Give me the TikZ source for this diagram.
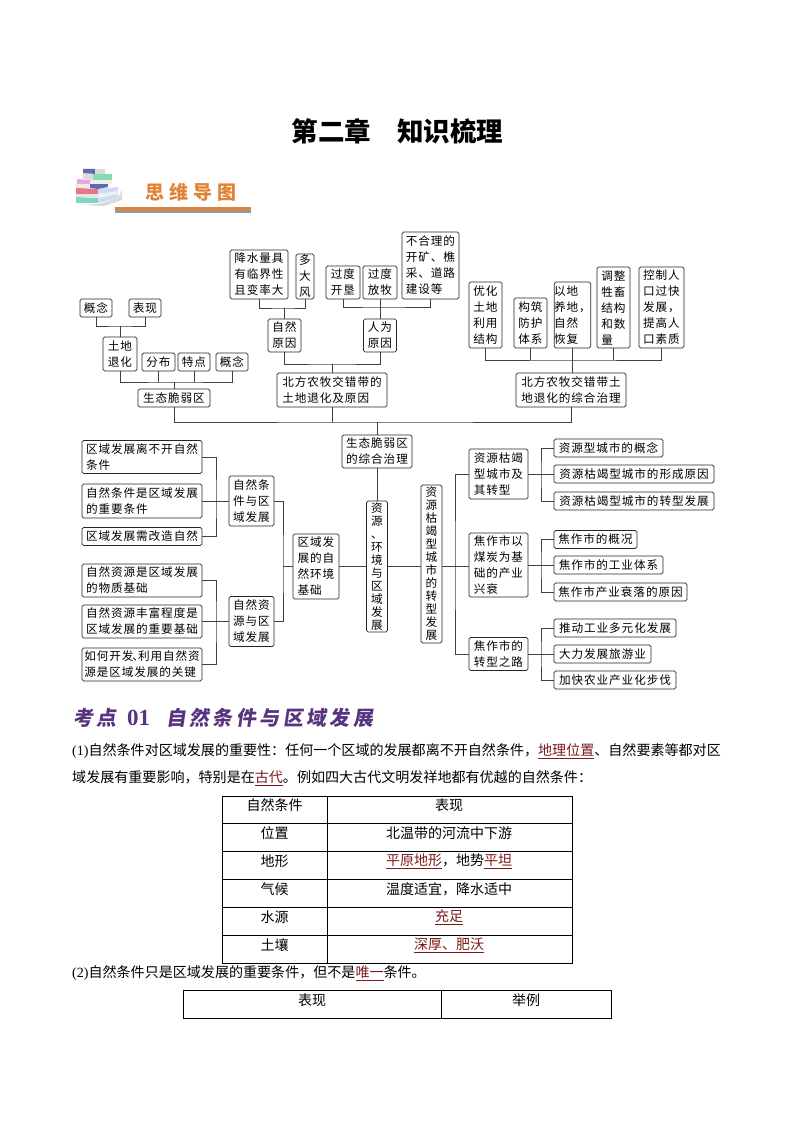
\documentclass[tikz,border=0pt]{standalone}
\usepackage{fontspec}
\setmainfont{Noto Sans CJK SC}
\newfontfamily\latinfont{Liberation Serif}
\newfontfamily\mapfont[LetterSpace=8]{Noto Sans CJK SC}
\newfontfamily\headfont[LetterSpace=17,FakeSlant=0.15]{Noto Sans CJK SC}
\newfontfamily\logofont[LetterSpace=27]{Noto Sans CJK SC}
\definecolor{keyred}{RGB}{125,25,25}
\definecolor{headorange}{RGB}{226,130,52}
\definecolor{headpurple}{RGB}{88,52,128}
\definecolor{bookred}{RGB}{232,120,135}
\definecolor{bookteal}{RGB}{125,215,195}
\definecolor{bookblue}{RGB}{95,105,175}
\definecolor{bookpink}{RGB}{235,165,225}
\definecolor{bookgreen}{RGB}{135,220,175}
\definecolor{bookpale}{RGB}{205,220,245}
\newcommand{\keyword}[1]{\textcolor{keyred}{\underline{#1}}}
\tikzset{
  mapbox/.style={draw=black!85,rounded corners=1.6pt,line width=0.7pt,inner sep=0pt,align=left,font=\mapfont\fontsize{11.6}{16}\selectfont},
  tallbox/.style={mapbox,align=center,font=\mapfont\fontsize{11.6}{13}\selectfont},
  maplink/.style={draw=black!75,line width=0.8pt},
  rowline/.style={draw=black,line width=0.7pt},
  bodytext/.style={anchor=west,inner sep=0pt,font=\fontsize{14.05}{14}\selectfont},
  celltext/.style={inner sep=0pt,font=\fontsize{14}{14}\selectfont}
}
\begin{document}
\begin{tikzpicture}[x=1pt,y=-1pt]
\useasboundingbox (0,0) rectangle (794,1123);
% title
\node[inner sep=0pt,font=\fontsize{26.5}{27}\selectfont\bfseries] (title) at (397.5,131) {第二章\hspace{26pt}知识梳理};
% books
\fill[black!15] (80,205) -- (104,206) -- (122,200) -- (122,190) -- (118,198) -- (98,204) -- cycle;
\fill[bookteal] (76,197) -- (98,198) -- (98,203) -- (76,203) -- cycle;
\fill[bookpale] (98,198) -- (118,194) -- (118,198) -- (98,203) -- cycle;
\fill[black!10] (76,194) -- (98,194) -- (98,198) -- (76,197) -- cycle;
\fill[black!6] (98,194) -- (118,191) -- (118,194) -- (98,198) -- cycle;
\fill[bookred] (76,188) -- (98,189) -- (98,194) -- (76,194) -- cycle;
\fill[bookpale] (98,189) -- (118,187) -- (118,191) -- (98,194) -- cycle;
\fill[black!8] (75,184) -- (90,184) -- (90,188) -- (76,188) -- cycle;
\fill[bookblue] (90,184) -- (108,184) -- (108,187) -- (98,189) -- (90,188) -- cycle;
\fill[bookpink] (77,179) -- (90,180) -- (90,184) -- (77,184) -- cycle;
\fill[black!6] (90,180) -- (112,180) -- (112,184) -- (90,184) -- cycle;
\fill[black!14] (83,173) -- (93,174) -- (93,180) -- (83,179) -- cycle;
\fill[bookgreen] (93,174) -- (112,174) -- (112,180) -- (93,180) -- cycle;
\fill[bookblue] (83,169) -- (95,169) -- (95,174) -- (83,173) -- cycle;
\fill[black!15] (95,169) -- (105,169) -- (105,174) -- (95,174) -- cycle;
% mind map heading
\node[inner sep=0pt,text=headorange,font=\logofont\fontsize{19}{19}\selectfont\bfseries] (maphead) at (191,192) {思维导图};
\fill[headorange] (115,207) rectangle (251,210);
\fill[black!40] (115,210) rectangle (251,213);
% top left
\node[mapbox,minimum width=32,minimum height=18] (gainiana) at (96,308) {概念};
\node[mapbox,minimum width=32,minimum height=18] (biaoxian) at (145,308) {表现};
\node[mapbox,minimum width=34,minimum height=34] (tudi) at (120,354) {土地\\退化};
\node[mapbox,minimum width=33,minimum height=18] (fenbu) at (158.5,362) {分布};
\node[mapbox,minimum width=32,minimum height=18] (tedian) at (194,362) {特点};
\node[mapbox,minimum width=32,minimum height=18] (gainianb) at (232,362) {概念};
\node[mapbox,minimum width=72,minimum height=18] (cuiruo) at (174,398) {生态脆弱区};
% top middle
\node[mapbox,minimum width=58,minimum height=49] (jiangshui) at (259,274.5) {降水量具\\有临界性\\且变率大};
\node[mapbox,align=center,minimum width=18,minimum height=45] (dafeng) at (305,276.5) {多\\大\\风};
\node[mapbox,minimum width=34,minimum height=33] (kaiken) at (343,282.5) {过度\\开垦};
\node[mapbox,minimum width=34,minimum height=33] (fangmu) at (380,282.5) {过度\\放牧};
\node[mapbox,minimum width=57,minimum height=67] (buheli) at (430.5,265.5) {不合理的\\开矿、樵\\采、道路\\建设等};
\node[mapbox,minimum width=33,minimum height=33] (ziran) at (284.5,335.5) {自然\\原因};
\node[mapbox,minimum width=33,minimum height=33] (renwei) at (380,335.5) {人为\\原因};
\node[mapbox,minimum width=110,minimum height=34] (yuanyin) at (332,390) {北方农牧交错带的\\土地退化及原因};
% top right
\node[mapbox,minimum width=33,minimum height=66] (youhua) at (485.5,315) {优化\\土地\\利用\\结构};
\node[mapbox,minimum width=33,minimum height=50] (goujian) at (530.5,323) {构筑\\防护\\体系};
\node[mapbox,minimum width=33,minimum height=66] (yangdi) at (572.5,315) {以地\\养地，\\自然\\恢复};
\node[mapbox,minimum width=33,minimum height=81] (tiaozheng) at (613.5,307.5) {调整\\牲畜\\结构\\和数\\量};
\node[mapbox,minimum width=45,minimum height=81] (kongzhi) at (661.5,307.5) {控制人\\口过快\\发展，\\提高人\\口素质};
\node[mapbox,minimum width=110,minimum height=34] (zhili) at (571,390) {北方农牧交错带土\\地退化的综合治理};
% centre
\node[mapbox,minimum width=70,minimum height=33] (zonghe) at (377,451.5) {生态脆弱区\\的综合治理};
\node[tallbox,minimum width=21,minimum height=131] (huanjing) at (377,566.5) {资\\源\\、\\环\\境\\与\\区\\域\\发\\展};
\node[tallbox,minimum width=21,minimum height=158] (kujie) at (431.5,564) {资\\源\\枯\\竭\\型\\城\\市\\的\\转\\型\\发\\展};
% left side
\node[mapbox,minimum width=120,minimum height=33] (likai) at (142,457) {区域发展离不开自然\\条件};
\node[mapbox,minimum width=120,minimum height=34] (zhongyao) at (142,501) {自然条件是区域发展\\的重要条件};
\node[mapbox,minimum width=120,minimum height=18] (gaizao) at (142,536.5) {区域发展需改造自然};
\node[mapbox,minimum width=120,minimum height=33] (wuzhi) at (142,580.5) {自然资源是区域发展\\的物质基础};
\node[mapbox,minimum width=120,minimum height=33] (fengfu) at (142,621.5) {自然资源丰富程度是\\区域发展的重要基础};
\node[mapbox,minimum width=120,minimum height=33] (guanjian) at (142,664.5) {如何开发\kern-1pt、\kern-6pt利用自然资\\源是区域发展的关键};
\node[mapbox,minimum width=45,minimum height=50] (tiaojian) at (251.5,501) {自然条\\件与区\\域发展};
\node[mapbox,minimum width=45,minimum height=50] (ziyuan) at (251.5,621.5) {自然资\\源与区\\域发展};
\node[mapbox,minimum width=46,minimum height=65] (jichu) at (316,566.5) {区域发\\展的自\\然环境\\基础};
% right side
\node[mapbox,minimum width=59,minimum height=50] (chengshi) at (498.5,474) {资源枯竭\\型城市及\\其转型};
\node[mapbox,minimum width=59,minimum height=64] (xingshuai) at (498.5,565) {焦作市以\\煤炭为基\\础的产业\\兴衰};
\node[mapbox,minimum width=59,minimum height=33] (zhilu) at (498.5,654) {焦作市的\\转型之路};
\node[mapbox,minimum width=109,minimum height=18] (gainianc) at (608.5,448) {资源型城市的概念};
\node[mapbox,minimum width=160,minimum height=18] (xingcheng) at (634,474) {资源枯竭型城市的形成原因};
\node[mapbox,minimum width=160,minimum height=18] (fazhan) at (634,501) {资源枯竭型城市的转型发展};
\node[mapbox,minimum width=83,minimum height=18] (gaikuang) at (595.5,539.5) {焦作市的概况};
\node[mapbox,minimum width=109,minimum height=18] (tixi) at (608.5,565) {焦作市的工业体系};
\node[mapbox,minimum width=133,minimum height=18] (shuailuo) at (620.5,592) {焦作市产业衰落的原因};
\node[mapbox,minimum width=122,minimum height=18] (tuidong) at (615,628) {推动工业多元化发展};
\node[mapbox,minimum width=97,minimum height=18] (lvyou) at (602.5,654) {大力发展旅游业};
\node[mapbox,minimum width=122,minimum height=18] (nongye) at (615,680) {加快农业产业化步伐};
% junctions
\coordinate (busa) at (120,326);
\coordinate (busb) at (174,382);
\coordinate (busc) at (284.5,308);
\coordinate (busd) at (380,307);
\coordinate (buse) at (332,364);
\coordinate (busf) at (572.5,360);
\coordinate (busg) at (377,422);
\coordinate (brka) at (216,501);
\coordinate (brkb) at (216,621.5);
\coordinate (brkc) at (283,566.5);
\coordinate (brkd) at (455,566.5);
\coordinate (brke) at (541,474);
\coordinate (brkf) at (541,565);
\coordinate (brkg) at (541,654);
% links
\draw[maplink] (gainiana.south) |- (busa) -| (biaoxian.south);
\draw[maplink] (busa) -- (tudi.north);
\draw[maplink] (tudi.south) |- (busb) -| (gainianb.south);
\draw[maplink] (fenbu.south) -- (fenbu.south |- busb);
\draw[maplink] (tedian.south) -- (tedian.south |- busb);
\draw[maplink] (busb) -- (cuiruo.north);
\draw[maplink] (jiangshui.south) |- (busc) -| (dafeng.south);
\draw[maplink] (busc) -- (ziran.north);
\draw[maplink] (kaiken.south) |- (busd) -| (buheli.south);
\draw[maplink] (fangmu.south) -- (renwei.north);
\draw[maplink] (ziran.south) |- (buse) -| (renwei.south);
\draw[maplink] (buse) -- (yuanyin.north);
\draw[maplink] (youhua.south) |- (busf) -| (kongzhi.south);
\draw[maplink] (goujian.south) -- (goujian.south |- busf);
\draw[maplink] (tiaozheng.south) -- (tiaozheng.south |- busf);
\draw[maplink] (yangdi.south) -- (yangdi.south |- zhili.north);
\draw[maplink] (cuiruo.south) |- (busg) -| (zhili.south);
\draw[maplink] (yuanyin.south) -- (yuanyin.south |- busg);
\draw[maplink] (busg) -- (zonghe.north);
\draw[maplink] (zonghe.south) -- (huanjing.north);
\draw[maplink] (likai.east) -| (brka) |- (gaizao.east);
\draw[maplink] (zhongyao.east) -- (tiaojian.west);
\draw[maplink] (wuzhi.east) -| (brkb) |- (guanjian.east);
\draw[maplink] (fengfu.east) -- (ziyuan.west);
\draw[maplink] (tiaojian.east) -| (brkc) |- (ziyuan.east);
\draw[maplink] (brkc) -- (jichu.west);
\draw[maplink] (jichu.east) -- (huanjing.west);
\draw[maplink] (huanjing.east) -- (kujie.west |- huanjing.east);
\draw[maplink] (kujie.east |- brkd) -- (brkd);
\draw[maplink] (chengshi.west) -| (brkd) |- (zhilu.west);
\draw[maplink] (brkd) -- (xingshuai.west |- brkd);
\draw[maplink] (gainianc.west) -| (brke) |- (fazhan.west);
\draw[maplink] (chengshi.east) -- (xingcheng.west);
\draw[maplink] (gaikuang.west) -| (brkf) |- (shuailuo.west);
\draw[maplink] (xingshuai.east) -- (tixi.west);
\draw[maplink] (tuidong.west) -| (brkg) |- (nongye.west);
\draw[maplink] (zhilu.east) -- (lvyou.west);
% point heading
\node[anchor=west,inner sep=0pt,text=headpurple,font=\headfont\fontsize{20}{20}\selectfont\bfseries] (kaodian) at (73,718) {考点};
\node[anchor=west,inner sep=0pt,text=headpurple,font=\latinfont\fontsize{23}{23}\selectfont\bfseries] (kaohao) at (127,718) {01};
\node[anchor=west,inner sep=0pt,text=headpurple,font=\headfont\fontsize{20}{20}\selectfont\bfseries] (kaoti) at (166,718) {自然条件与区域发展};
% text
\node[bodytext] (linea) at (72,751) {{\latinfont (1)}自然条件对区域发展的重要性：任何一个区域的发展都离不开自然条件，\keyword{地理位置}、自然要素等都对区};
\node[bodytext] (lineb) at (72,778) {域发展有重要影响，特别是在\keyword{古代}。例如四大古代文明发祥地都有优越的自然条件：};
% first table
\draw[rowline] (222,796) rectangle (572,963);
\draw[rowline] (327,796) -- (327,963);
\draw[rowline] (222,823) -- (572,823);
\draw[rowline] (222,851) -- (572,851);
\draw[rowline] (222,879) -- (572,879);
\draw[rowline] (222,907) -- (572,907);
\draw[rowline] (222,935) -- (572,935);
\node[celltext] (taa) at (274.5,805) {自然条件};
\node[celltext] (tab) at (449,805) {表现};
\node[celltext] (tba) at (274.5,833) {位置};
\node[celltext] (tbb) at (449,833) {北温带的河流中下游};
\node[celltext] (tca) at (274.5,861) {地形};
\node[celltext] (tcb) at (449,861) {\keyword{平原地形}，地势\keyword{平坦}};
\node[celltext] (tda) at (274.5,889) {气候};
\node[celltext] (tdb) at (449,889) {温度适宜，降水适中};
\node[celltext] (tea) at (274.5,917) {水源};
\node[celltext] (teb) at (449,917) {\keyword{充足}};
\node[celltext] (tfa) at (274.5,945) {土壤};
\node[celltext] (tfb) at (449,945) {\keyword{深厚、肥沃}};
\node[bodytext] (linec) at (72,973) {{\latinfont (2)}自然条件只是区域发展的重要条件，但不是\keyword{唯一}条件。};
% second table
\draw[rowline] (183,990) rectangle (611,1018);
\draw[rowline] (441,990) -- (441,1018);
\node[celltext] (tga) at (312,1000) {表现};
\node[celltext] (tgb) at (526,1000) {举例};
\end{tikzpicture}
\end{document}
